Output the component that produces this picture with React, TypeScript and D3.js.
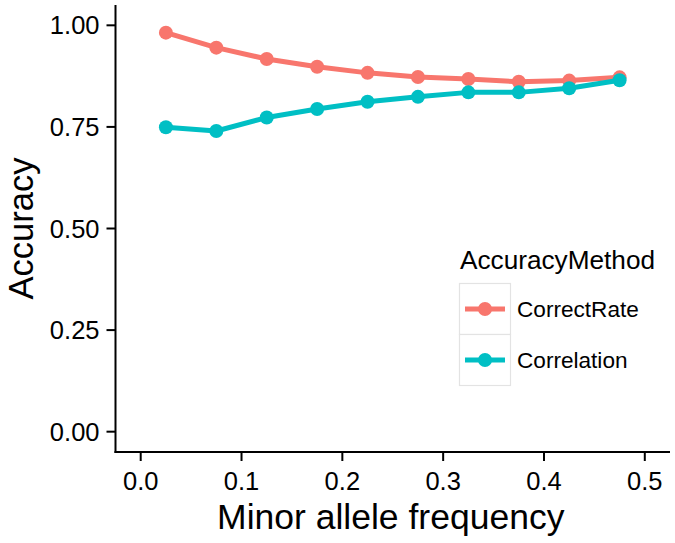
import React from "react";
import * as d3 from "d3";

const maf = [0.025, 0.075, 0.125, 0.175, 0.225, 0.275, 0.325, 0.375, 0.425, 0.475];
const correctRate = [0.982, 0.945, 0.917, 0.898, 0.883, 0.873, 0.868, 0.861, 0.864, 0.872];
const correlation = [0.749, 0.740, 0.773, 0.794, 0.812, 0.824, 0.835, 0.835, 0.845, 0.865];
const seriesNames = ["CorrectRate", "Correlation"];
const seriesColors = ["#F8766D", "#00BFC4"];
const xTicks = [0, 0.1, 0.2, 0.3, 0.4, 0.5];
const yTicks = [0, 0.25, 0.5, 0.75, 1.0];

const W = 675;
const H = 543;
const FONT = "'Liberation Sans', Arial, sans-serif";

export default function App() {
  const left = 115.5, right = 670, top = 5, bottom = 452;
  const x = d3.scaleLinear().domain([-0.025, 0.525]).range([left, right]);
  const y = d3.scaleLinear().domain([-0.05, 1.05]).range([bottom, top]);
  const series = [correctRate, correlation];
  const line = d3
    .line<[number, number]>()
    .x((d) => x(d[0]))
    .y((d) => y(d[1]));

  const legX = 459.5, legY = 283.5, keyW = 51, keyH = 51;

  return (
    <svg
      width={W}
      height={H}
      style={{ position: "absolute", left: 0, top: 0, background: "#fff" }}
      fontFamily={FONT}
    >
      <rect x={0} y={0} width={W} height={H} fill="#fff" />
      {series.map((vals, i) => (
        <path
          key={"l" + i}
          d={line(maf.map((m, j) => [m, vals[j]] as [number, number])) || ""}
          fill="none"
          stroke={seriesColors[i]}
          strokeWidth={5}
          strokeLinejoin="round"
        />
      ))}
      {series.map((vals, i) =>
        maf.map((m, j) => (
          <circle key={"p" + i + "-" + j} cx={x(m)} cy={y(vals[j])} r={7} fill={seriesColors[i]} />
        ))
      )}
      <line x1={left} x2={left} y1={top} y2={bottom + 1} stroke="#000" strokeWidth={2} />
      <line x1={left - 1} x2={right} y1={bottom} y2={bottom} stroke="#000" strokeWidth={2} />
      {yTicks.map((t) => (
        <g key={"yt" + t}>
          <line x1={left - 9} x2={left} y1={y(t)} y2={y(t)} stroke="#000" strokeWidth={2} />
          <text x={left - 16} y={y(t)} dy="0.36em" textAnchor="end" fontSize={25.5} fill="#000">
            {t.toFixed(2)}
          </text>
        </g>
      ))}
      {xTicks.map((t) => (
        <g key={"xt" + t}>
          <line x1={x(t)} x2={x(t)} y1={bottom} y2={bottom + 9} stroke="#000" strokeWidth={2} />
          <text x={x(t)} y={490} textAnchor="middle" fontSize={25.5} fill="#000">
            {t.toFixed(1)}
          </text>
        </g>
      ))}
      <text x={(left + right) / 2 - 2} y={529} textAnchor="middle" fontSize={35.5} fill="#000">
        Minor allele frequency
      </text>
      <text
        transform={`translate(32.5, ${(top + bottom) / 2}) rotate(-90)`}
        textAnchor="middle"
        fontSize={34.5}
        fill="#000"
      >
        Accuracy
      </text>
      <text x={460} y={269} fontSize={26.2} fill="#000">
        AccuracyMethod
      </text>
      {seriesNames.map((name, i) => {
        const ky = legY + i * keyH;
        return (
          <g key={"lg" + i}>
            <rect x={legX} y={ky} width={keyW} height={keyH} fill="#fff" stroke="#e3e3e3" strokeWidth={1.2} />
            <line
              x1={legX + 5.5}
              x2={legX + keyW - 5.5}
              y1={ky + keyH / 2}
              y2={ky + keyH / 2}
              stroke={seriesColors[i]}
              strokeWidth={5}
            />
            <circle cx={legX + keyW / 2} cy={ky + keyH / 2} r={7} fill={seriesColors[i]} />
            <text x={517} y={ky + keyH / 2} dy="0.36em" fontSize={22.6} fill="#000">
              {name}
            </text>
          </g>
        );
      })}
    </svg>
  );
}
